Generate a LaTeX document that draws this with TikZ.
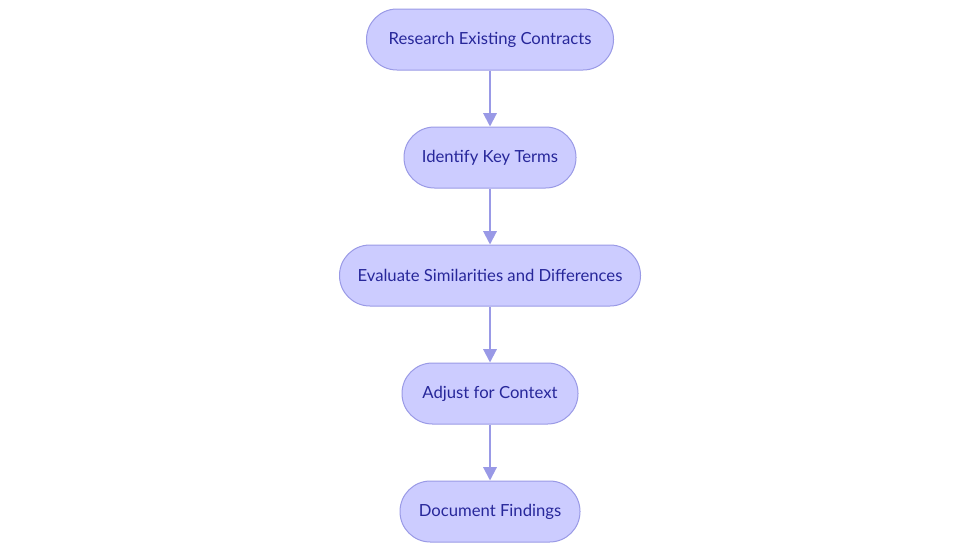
\documentclass[tikz,border=0pt]{standalone}
\usepackage{fontspec}
\setmainfont{Lato}
\usetikzlibrary{arrows.meta}
\definecolor{boxfill}{HTML}{CCCCFF}
\definecolor{boxline}{HTML}{9A9AE6}
\definecolor{boxtext}{HTML}{27279A}
\definecolor{arrowc}{HTML}{9999E6}
\begin{document}
\begin{tikzpicture}[x=0.75pt,y=-0.75pt,
  stepbox/.style={draw=boxline, fill=boxfill, line width=0.75pt, rounded corners=22.8pt,
    minimum height=45.75pt, inner sep=0pt, text=boxtext, font=\fontsize{12.5}{14}\selectfont},
  flow/.style={draw=arrowc, line width=1.5pt, -{Triangle[length=10pt,width=10pt]}}]
\useasboundingbox (0,0) rectangle (980,553);
\node[stepbox, minimum width=185.25pt] (n1) at (490,39.5) {Research Existing Contracts};
\node[stepbox, minimum width=129pt] (n2) at (490,157.5) {Identify Key Terms};
\node[stepbox, minimum width=225.75pt] (n3) at (490,275.5) {Evaluate Similarities and Differences};
\node[stepbox, minimum width=132pt] (n4) at (490,393.5) {Adjust for Context};
\node[stepbox, minimum width=135pt] (n5) at (490,511.5) {Document Findings};
\draw[flow] (n1) -- (n2);
\draw[flow] (n2) -- (n3);
\draw[flow] (n3) -- (n4);
\draw[flow] (n4) -- (n5);
\end{tikzpicture}
\end{document}
